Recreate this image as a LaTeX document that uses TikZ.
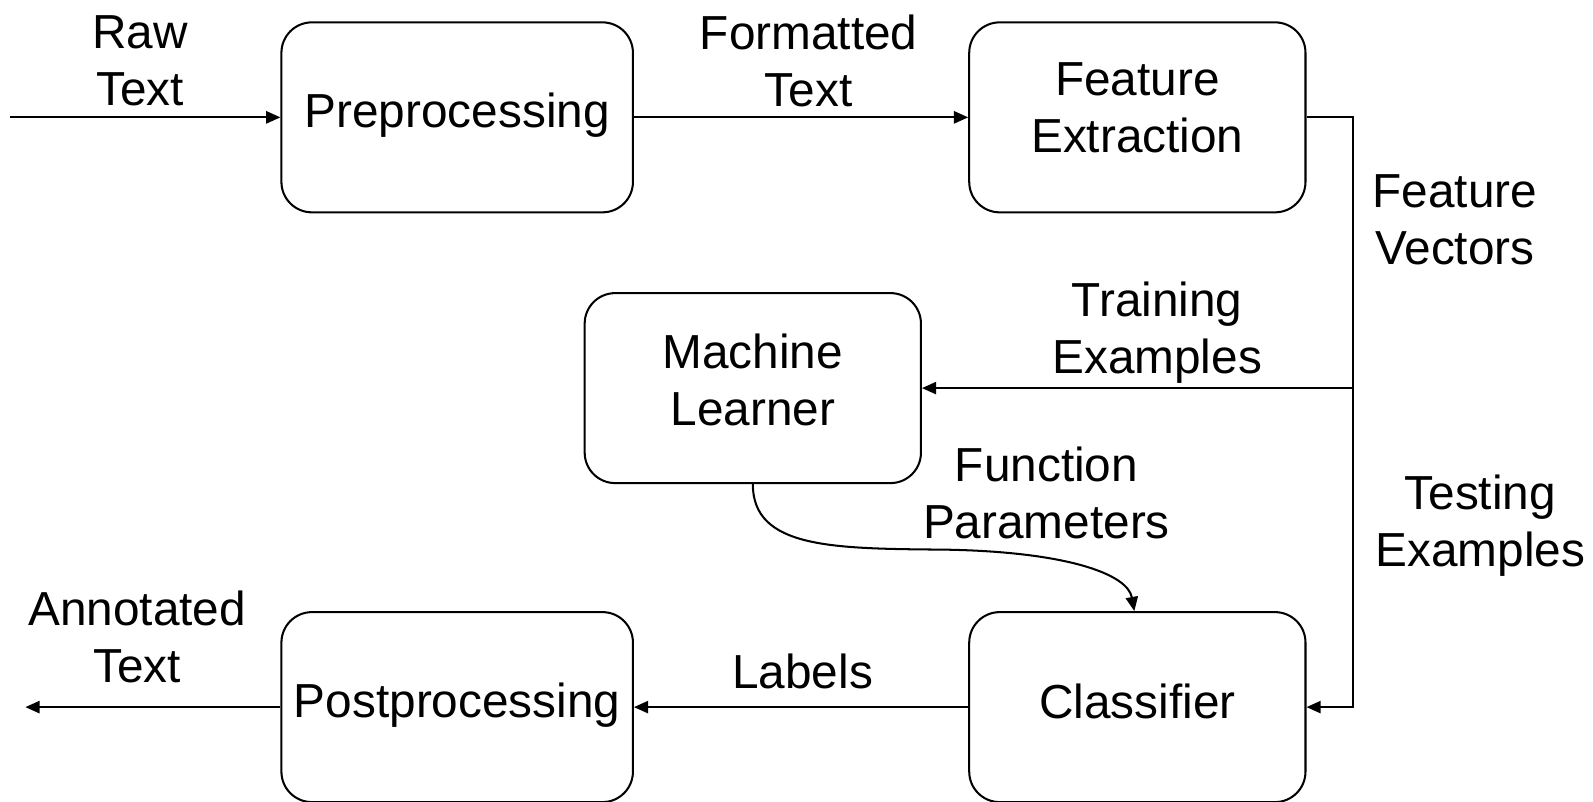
\documentclass[tikz,border=0pt]{standalone}
\usepackage{fontspec}
\setmainfont{Liberation Sans}
\usetikzlibrary{arrows.meta}
\begin{document}
\begin{tikzpicture}[x=0.5pt,y=-0.5pt,
  font=\fontsize{23.5}{28}\selectfont,
  box/.style={draw, line width=1pt, rounded corners=15pt, inner sep=0pt},
  widebox/.style={box, minimum width=173pt, minimum height=93.5pt},
  narrowbox/.style={box, minimum width=165.5pt, minimum height=93.5pt},
  arr/.style={line width=1pt, -{Triangle[length=7pt,width=6pt]}},
  lbl/.style={align=center, inner sep=0pt}]
\useasboundingbox (0,0) rectangle (1568,789);
\fill[white] (0,0) rectangle (1568,789);

\node[widebox] (PP) at (450,115.5) {};
\node[narrowbox] (FE) at (1119.5,115.5) {};
\node[narrowbox] (ML) at (741,382) {};
\node[widebox] (PO) at (450,696) {};
\node[narrowbox] (CL) at (1119.5,696) {};

\node[lbl] (PPt) at (450,113.5) {Preprocessing};
\node[lbl] (FEt) at (1119.5,106.5) {Feature\\Extraction};
\node[lbl] (MLt) at (741,374) {Machine\\Learner};
\node[lbl] (POt) at (450,694) {Postprocessing};
\node[lbl] (CLt) at (1119.5,690) {Classifier};

\coordinate (in) at (10,115.5);
\coordinate (out) at (25,696);
\coordinate (br) at (1332,382);
\coordinate (mid) at (930,541);

\draw[arr] (in) -- (PP.west);
\draw[arr] (PP.east) -- (FE.west);
\draw[arr] (FE.east) -- (br |- FE.east) |- (CL.east);
\draw[arr] (br) -- (ML.east);
\draw[arr] (ML.south) .. controls (741,540) and (820,540) .. (mid) .. controls (1050,543) and (1110,565) .. ([xshift=-1.5pt]CL.north);
\draw[arr] (CL.west) -- (PO.east);
\draw[arr] (PO.west) -- (out);

\node[lbl] (l1) at (138,60) {Raw\\Text};
\node[lbl] (l2) at (796,60) {Formatted\\Text};
\node[lbl] (l3) at (1432,216) {Feature\\Vectors};
\node[lbl] (l4) at (1139,327) {Training\\Examples};
\node[lbl] (l5) at (1030,485) {Function\\Parameters};
\node[lbl] (l6) at (1457,517) {Testing\\Examples};
\node[lbl] (l7) at (135,627) {Annotated\\Text};
\node[lbl] (l8) at (790,661) {Labels};
\end{tikzpicture}
\end{document}
